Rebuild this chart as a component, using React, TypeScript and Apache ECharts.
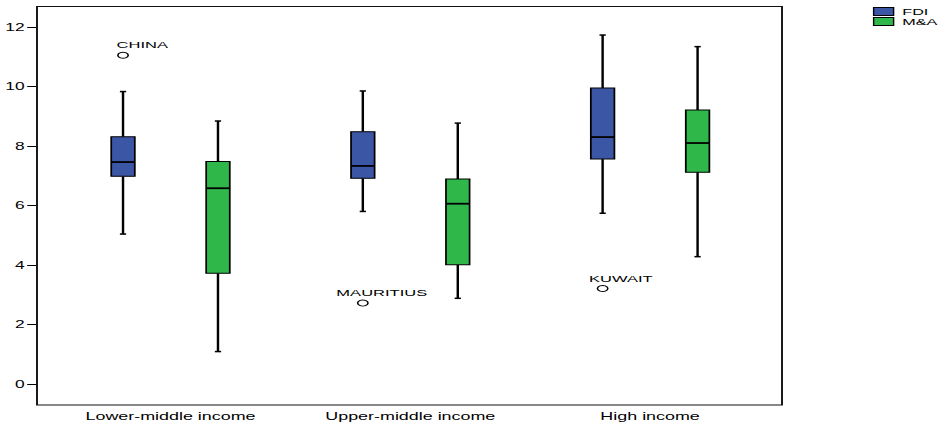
import React, { useEffect, useRef } from "react";
import * as echarts from "echarts";

// ---------- data ----------
const categories = ["Lower-middle income", "Upper-middle income", "High income"];
const seriesNames = ["FDI", "M&A"];
// [low whisker, Q1, median, Q3, high whisker]
const fdiBoxes = [
  [5.04, 6.98, 7.46, 8.31, 9.83],
  [5.8, 6.92, 7.33, 8.48, 9.85],
  [5.74, 7.56, 8.3, 9.95, 11.73],
];
const maBoxes = [
  [1.09, 3.72, 6.58, 7.48, 8.84],
  [2.88, 4.01, 6.06, 6.89, 8.77],
  [4.28, 7.12, 8.1, 9.21, 11.34],
];
const outlierNames = ["CHINA", "MAURITIUS", "KUWAIT"];
const outlierCategories = [0, 1, 2];
const outlierValues = [11.05, 2.72, 3.21];
const yTicks = [0, 2, 4, 6, 8, 10, 12];

// ---------- layout / style ----------
const W = 540;
const H = 428;
const S = 939 / W; // horizontal stretch of the original picture
const FONT = '"Liberation Sans", Arial, sans-serif';
const COLORS: Record<string, string> = { FDI: "#3C56A6", "M&A": "#2FB74A" };
const labelDx: Record<string, number> = { CHINA: -3.7, MAURITIUS: -15.2, KUWAIT: -7.8 };

const frameLeft = 37 / S;
const frameRight = 782 / S;
const bandLeft = 50 / S;
const bandRight = 770 / S;

function boxRenderer(offsetFrac: number, color: string) {
  return (params: any, api: any) => {
    const cat = api.value(0);
    const bw = api.size([1, 0])[0];
    const cx = api.coord([cat, 0])[0] + offsetFrac * bw;
    const y = (i: number) => api.coord([cat, api.value(i)])[1];
    const low = y(1), q1 = y(2), med = y(3), q3 = y(4), high = y(5);
    const half = 0.0492 * bw;
    const cap = 1.8;
    const line = (x1: number, y1: number, x2: number, y2: number, lw: number) => ({
      type: "line",
      shape: { x1, y1, x2, y2 },
      style: { stroke: "#000", lineWidth: lw },
    });
    return {
      type: "group",
      children: [
        line(cx, high, cx, q3, 1.4),
        line(cx, low, cx, q1, 1.4),
        line(cx - cap, high, cx + cap, high, 1.5),
        line(cx - cap, low, cx + cap, low, 1.5),
        {
          type: "rect",
          shape: { x: cx - half, y: q3, width: 2 * half, height: q1 - q3 },
          style: { fill: color, stroke: "#000", lineWidth: 1 },
        },
        line(cx - half, med, cx + half, med, 1.8),
      ],
    };
  };
}

function outlierRenderer(offsetFrac: number) {
  return (params: any, api: any) => {
    const cat = api.value(0);
    const bw = api.size([1, 0])[0];
    const [px, cy] = api.coord([cat, api.value(1)]);
    const cx = px + offsetFrac * bw;
    const name = outlierNames[params.dataIndex];
    return {
      type: "group",
      children: [
        {
          type: "circle",
          shape: { cx, cy, r: 3 },
          style: { fill: "#fff", stroke: "#000", lineWidth: 0.9 },
        },
        {
          type: "text",
          style: {
            text: name,
            x: cx + (labelDx[name] ?? 0),
            y: cy - 10,
            font: `9.5px ${FONT}`,
            fill: "#000",
            verticalAlign: "middle",
            align: "left",
          },
        },
      ],
    };
  };
}

export default function App() {
  const ref = useRef<HTMLDivElement>(null);
  useEffect(() => {
    if (!ref.current) return;
    const chart = echarts.init(ref.current, undefined, { renderer: "svg" });
    const boxSets = [fdiBoxes, maBoxes];
    const offsets = [-0.198, 0.198];
    const option: any = {
      animation: false,
      backgroundColor: "#fff",
      grid: { left: bandLeft, right: W - bandRight, top: 27, bottom: 44 },
      legend: {
        orient: "vertical",
        left: 502,
        top: 7,
        padding: 0,
        icon: "rect",
        itemWidth: 11.5,
        itemHeight: 8,
        itemGap: 1,
        textStyle: { fontFamily: FONT, fontSize: 9.3, color: "#000" },
        data: seriesNames.map((n) => ({
          name: n,
          itemStyle: { color: COLORS[n], borderColor: "#000", borderWidth: 0.8 },
        })),
      },
      xAxis: {
        type: "category",
        data: categories,
        offset: 21,
        axisLine: { show: false },
        axisTick: { alignWithLabel: true, length: 5, lineStyle: { color: "#000", width: 1 } },
        axisLabel: { margin: 6, fontFamily: FONT, fontSize: 10.3, color: "#000" },
        splitLine: { show: false },
      },
      yAxis: {
        type: "value",
        min: yTicks[0],
        max: yTicks[yTicks.length - 1],
        interval: 2,
        offset: bandLeft - frameLeft,
        axisLine: { show: false },
        axisTick: { show: true, length: 6, lineStyle: { color: "#000", width: 1 } },
        axisLabel: { margin: 7.5, fontFamily: FONT, fontSize: 10, color: "#000" },
        splitLine: { show: false },
      },
      graphic: [
        {
          type: "rect",
          shape: { x: frameLeft, y: 6.5, width: frameRight - frameLeft, height: 398.5 },
          style: { fill: "none", stroke: "#111", lineWidth: 1.1 },
          silent: true,
          z: 10,
        },
      ],
      series: [
        ...seriesNames.map((n, si) => ({
          type: "custom",
          name: n,
          itemStyle: { color: COLORS[n], borderColor: "#000", borderWidth: 0.8 },
          renderItem: boxRenderer(offsets[si], COLORS[n]),
          encode: { x: 0, y: [1, 2, 3, 4, 5] },
          data: boxSets[si].map((b, i) => [i, ...b]),
          z: 3,
        })),
        {
          type: "custom",
          name: "FDI outliers",
          renderItem: outlierRenderer(offsets[0]),
          encode: { x: 0, y: 1 },
          data: outlierCategories.map((c, i) => [c, outlierValues[i]]),
          z: 4,
        },
      ],
    };
    chart.setOption(option);
    return () => chart.dispose();
  }, []);
  return (
    <div
      ref={ref}
      style={{
        position: "fixed",
        left: 0,
        top: 0,
        width: W,
        height: H,
        transform: `scaleX(${S})`,
        transformOrigin: "0 0",
        background: "#fff",
      }}
    />
  );
}
